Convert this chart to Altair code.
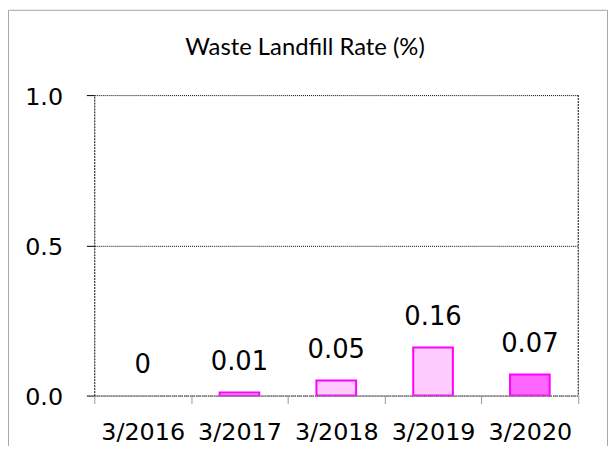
import altair as alt
import pandas as pd

categories = ["3/2016", "3/2017", "3/2018", "3/2019", "3/2020"]
values = [0, 0.01, 0.05, 0.16, 0.07]
labels = ["0", "0.01", "0.05", "0.16", "0.07"]
y_ticks = [0, 0.5, 1.0]
title_text = "Waste Landfill Rate (%)"

fills = ["#FFCCFF", "#FFCCFF", "#FFCCFF", "#FFCCFF", "#FF66FF"]

df = pd.DataFrame({"period": categories, "rate": values, "label": labels})
one = pd.DataFrame({"title": [title_text]})

W, H = 488, 303
FONT = "DejaVu Sans"

x = alt.X(
    "period:N",
    sort=categories,
    scale=alt.Scale(paddingInner=0, paddingOuter=0),
    axis=alt.Axis(
        title=None, labelAngle=0, labelFont=FONT, labelFontSize=24, labelColor="#000",
        labelPadding=17, tickBand="extent", tickSize=8, tickColor="#999",
        domainColor="#888", domainDash=[2, 1], domainWidth=1.5, zindex=1, grid=False,
    ),
)
y = alt.Y(
    "rate:Q",
    scale=alt.Scale(domain=[0, 1], nice=False, zero=True),
    axis=alt.Axis(
        title=None, values=y_ticks, format=".1f", labelFont=FONT, labelFontSize=24,
        labelColor="#000", labelPadding=24, labelOffset=2, tickSize=8, tickColor="#000",
        domainColor="#000", domainDash=[2, 1], gridColor="#000", gridDash=[1, 1],
    ),
)

bars = alt.Chart(df).mark_bar(size=40, strokeWidth=2, stroke="#FF00FF").encode(
    x=x,
    y=y,
    fill=alt.Fill("period:N", scale=alt.Scale(domain=categories, range=fills), legend=None),
    strokeOpacity=alt.condition("datum.rate > 0", alt.value(1), alt.value(0)),
)

text = alt.Chart(df).mark_text(
    font=FONT, fontSize=26, baseline="alphabetic", dy=-23, color="#000"
).encode(
    x=alt.X("period:N", sort=categories),
    y=alt.Y("rate:Q"),
    text="label:N",
)

right_line = alt.Chart(one).mark_rule(color="#000", strokeDash=[2, 1]).encode(
    x=alt.value(W), y=alt.value(0), y2=alt.value(H)
)

frame = alt.Chart(one).mark_rect(fillOpacity=0, stroke="#a6a6a6", strokeWidth=1).encode(
    x=alt.value(-86.5), x2=alt.value(517.5), y=alt.value(-85.5), y2=alt.value(H + 200)
)

title = alt.Chart(one).mark_text(
    font="Lato", fontSize=24, color="#000", align="center", baseline="alphabetic"
).encode(x=alt.value(212.5), y=alt.value(-40), text="title:N")

chart = alt.layer(frame, bars, text, right_line, title).properties(
    width=W,
    height=H,
    autosize=alt.AutoSizeParams(type="none"),
    padding={"left": 87, "top": 86, "right": 30, "bottom": 49},
).configure_view(strokeWidth=0)

chart.save("out.html", embed_options={"renderer": "svg", "actions": False})
